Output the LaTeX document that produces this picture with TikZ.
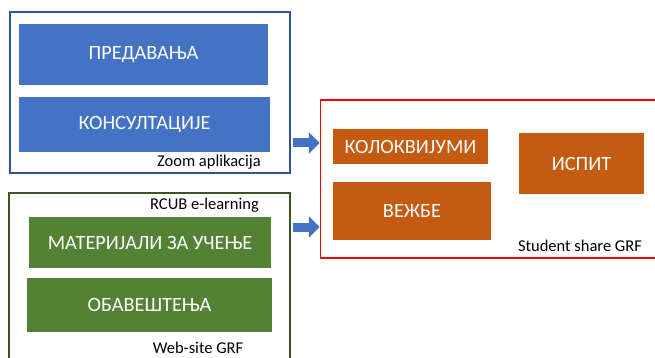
\documentclass[tikz,border=0pt]{standalone}
\usepackage{fontspec}
\setmainfont{Carlito}
\usetikzlibrary{arrows.meta}
\definecolor{bfill}{HTML}{4472C4}
\definecolor{bline}{HTML}{2F5597}
\definecolor{gfill}{HTML}{548235}
\definecolor{gline}{HTML}{385723}
\definecolor{ofill}{HTML}{C55A11}
\definecolor{rline}{HTML}{FF0000}
\begin{document}
\begin{tikzpicture}[x=1pt,y=-1pt,
  frame/.style={draw, line width=1.5pt, inner sep=0pt},
  box/.style={inner sep=0pt, text=white, font=\fontsize{20.3}{22}\selectfont},
  bluebox/.style={box, fill=bfill},
  greenbox/.style={box, fill=gfill},
  orangebox/.style={box, fill=ofill},
  lab/.style={inner sep=0pt, font=\fontsize{16.5}{18}\selectfont},
  blockarrow/.style={draw=bfill, line width=9pt, -{Triangle[length=11pt,width=21pt]}, color=bfill}]
\useasboundingbox (0,0) rectangle (655,358);
\fill[white] (0,0) rectangle (655,358);
% frames
\node[frame, draw=bline, minimum width=280, minimum height=161] (blueframe) at (150,92.5) {};
\node[frame, draw=gline, minimum width=281, minimum height=169] (greenframe) at (149.5,277.5) {};
\node[frame, draw=rline, minimum width=340, minimum height=158] (redframe) at (490.5,179) {};
% blue boxes
\node[bluebox, minimum width=249, minimum height=61] (pred) at (143.5,54.5) {ПРЕДАВАЊА};
\node[bluebox, minimum width=251, minimum height=55] (kons) at (144.5,124.5) {КОНСУЛТАЦИЈЕ};
\node[lab] (zoom) at (209,162) {Zoom aplikacija};
% green boxes
\node[greenbox, minimum width=242, minimum height=51] (mat) at (150,242.5) {МАТЕРИЈАЛИ ЗА УЧЕЊЕ};
\node[greenbox, minimum width=245, minimum height=54] (obav) at (149.5,305) {ОБАВЕШТЕЊА};
\node[lab] (rcub) at (204.5,205) {RCUB e-learning};
\node[lab] (web) at (198,348) {Web-site GRF};
% orange boxes
\node[orangebox, minimum width=155, minimum height=35] (kolo) at (410.5,146.5) {КОЛОКВИЈУМИ};
\node[orangebox, minimum width=158, minimum height=58] (vezbe) at (412,211) {ВЕЖБЕ};
\node[orangebox, minimum width=125, minimum height=61] (ispit) at (581.5,163.5) {ИСПИТ};
\node[lab] (share) at (580,246) {Student share GRF};
% arrows
\draw[blockarrow, shorten <=2pt] (blueframe.east |- 0,143) -- (redframe.west |- 0,143);
\draw[blockarrow, shorten <=2pt] (greenframe.east |- 0,227) -- (redframe.west |- 0,227);
\end{tikzpicture}
\end{document}
